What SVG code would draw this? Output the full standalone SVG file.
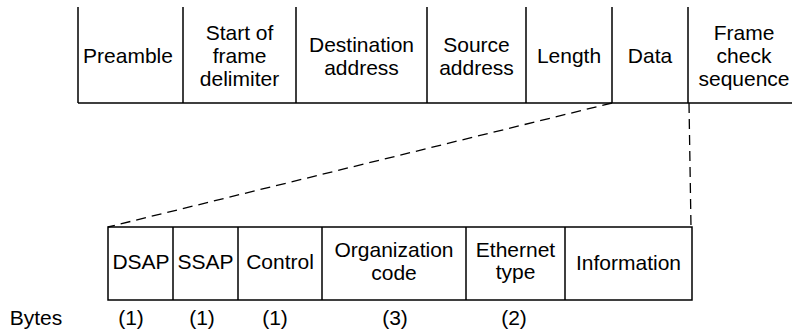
<svg xmlns="http://www.w3.org/2000/svg" width="792" height="330" viewBox="0 0 792 330">
<style>
.ln{stroke:#000;stroke-width:1.5;fill:none}
.dash{stroke:#000;stroke-width:1.3;fill:none;stroke-dasharray:10 6}
text{font-family:"Liberation Sans",Arial,sans-serif;font-size:21px;fill:#000;text-anchor:middle}
</style>
<rect width="792" height="330" fill="#fff"/>
<g id="frame">
<path class="ln" d="M78,103H792M78,7V103M183,7V103M296,7V103M427,7V103M526,7V103M612,7V103M688,7V103"/>
</g>
<g id="preamble"><text x="128" y="63">Preamble</text></g>
<g id="sfd"><text x="239.5" y="40">Start of</text><text x="239.5" y="63">frame</text><text x="239.5" y="86">delimiter</text></g>
<g id="dest"><text x="361.5" y="52">Destination</text><text x="361.5" y="75">address</text></g>
<g id="src"><text x="476.5" y="52">Source</text><text x="476.5" y="75">address</text></g>
<g id="length"><text x="569" y="63">Length</text></g>
<g id="data"><text x="650" y="63">Data</text></g>
<g id="fcs"><text x="744" y="40">Frame</text><text x="744" y="63">check</text><text x="744" y="86">sequence</text></g>
<g id="connectors">
<line class="dash" x1="612" y1="103" x2="108" y2="227"/>
<line class="dash" x1="689" y1="103" x2="691" y2="227"/>
</g>
<g id="subframe">
<path class="ln" d="M108,227H692V300H108ZM173,227V300M238,227V300M322,227V300M466,227V300M565,227V300"/>
</g>
<g id="dsap"><text x="141" y="269">DSAP</text></g>
<g id="ssap"><text x="205.5" y="269">SSAP</text></g>
<g id="control"><text x="280" y="269">Control</text></g>
<g id="org"><text x="394" y="257">Organization</text><text x="394" y="280">code</text></g>
<g id="ethertype"><text x="515.5" y="257">Ethernet</text><text x="515.5" y="279">type</text></g>
<g id="info"><text x="628.5" y="270">Information</text></g>
<g id="bytes">
<text x="36" y="325">Bytes</text>
<text x="131" y="325">(1)</text>
<text x="202" y="325">(1)</text>
<text x="275" y="325">(1)</text>
<text x="395" y="325">(3)</text>
<text x="514" y="325">(2)</text>
</g>
</svg>
